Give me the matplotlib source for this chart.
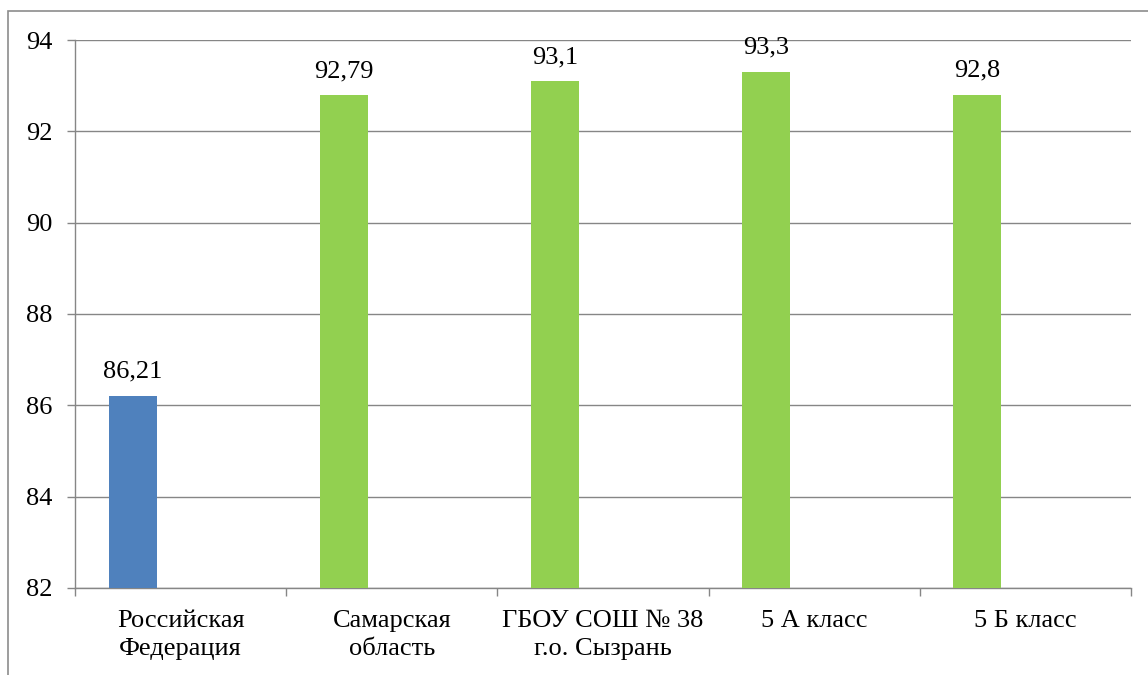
import matplotlib
matplotlib.use("Agg")
import matplotlib.pyplot as plt
from matplotlib.patches import Rectangle
import numpy as np

categories = ["Российская\nФедерация", "Самарская\nобласть", "ГБОУ СОШ № 38\nг.о. Сызрань",
              "5 А класс", "5 Б класс"]
values = [86.21, 92.79, 93.1, 93.3, 92.8]
value_labels = ["86,21", "92,79", "93,1", "93,3", "92,8"]
bar_colors = ["#4F81BD", "#92D050", "#92D050", "#92D050", "#92D050"]
yticks = [82, 84, 86, 88, 90, 92, 94]

plt.rcParams['font.family'] = ['Liberation Serif', 'DejaVu Serif']

W, H = 1148, 675
fig = plt.figure(figsize=(W / 100, H / 100), dpi=100)
fig.patch.set_facecolor("white")

# outer chart border (cropped at right and bottom)
fig.patches.append(Rectangle((8 / W, -0.05), 1.2, 1 - 11 / H + 0.05, transform=fig.transFigure,
                             fill=False, edgecolor="#8c8c8c", lw=1.2))

ax = fig.add_axes([75 / W, 1 - 588 / H, (1131 - 75) / W, (588 - 40) / H])
x = np.arange(len(categories))
bw = 0.227
ax.bar(x - bw, [v - 82 for v in values], bottom=82, width=bw, color=bar_colors, zorder=3)

FS = 19
for xi, v, lab in zip(x, values, value_labels):
    ax.annotate(lab, (xi - bw, v), xytext=(0, 13), textcoords="offset points",
                ha="center", va="baseline", fontsize=FS, color="black")

ax.set_xlim(-0.5, len(categories) - 0.5)
ax.set_ylim(82, 94)
ax.set_yticks(yticks)
ax.set_yticklabels([str(t) for t in yticks], fontsize=FS)
ax.set_xticks(x)
ax.set_xticklabels(categories, fontsize=FS, linespacing=1.35)
ax.set_xticks(np.arange(-0.5, len(categories), 1.0), minor=True)
ax.tick_params(axis="x", which="major", length=0, pad=16)
ax.tick_params(axis="x", which="minor", length=6, width=1.0, color="#868686", direction="out")
ax.tick_params(axis="y", length=6, width=1.0, color="#868686", direction="out", pad=10)

ax.grid(axis="y", color="#868686", lw=1.0, zorder=0)
for s in ["top", "right"]:
    ax.spines[s].set_visible(False)
for s in ["left", "bottom"]:
    ax.spines[s].set_color("#868686")
    ax.spines[s].set_linewidth(1.0)

fig.savefig("out.png", dpi=100, facecolor="white")
